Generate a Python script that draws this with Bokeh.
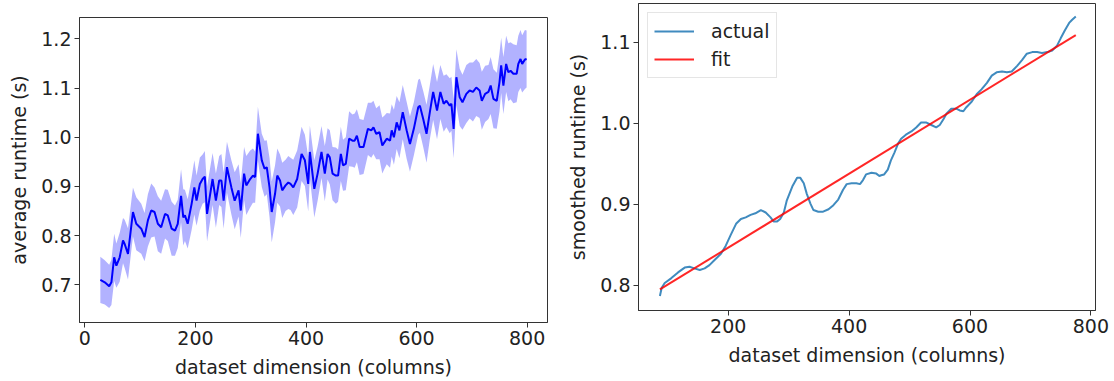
from bokeh.plotting import figure
from bokeh.layouts import row
from bokeh.models import (Range1d, FixedTicker, PrintfTickFormatter, ColumnDataSource,
                          Legend, LegendItem)
from bokeh.embed import file_html
from bokeh.resources import INLINE

# ---------------- data ----------------
# left panel: average runtime per dataset dimension, with spread band
dims_left = [28, 36, 44, 48, 53, 57, 63, 69, 72, 78, 87, 93, 102, 108, 114, 120, 126, 132, 138, 145,
             150, 157, 163, 168, 174, 178, 181, 186, 193, 198, 202, 208, 213, 217, 221, 231, 237, 243,
             247, 251, 257, 265, 271, 278, 282, 288, 292, 299, 304, 308, 313, 320, 325, 329, 334, 338,
             344, 348, 353, 357, 363, 368, 372, 377, 384, 392, 398, 404, 407, 415, 421, 428, 434, 439,
             443, 448, 454, 458, 463, 467, 472, 478, 484, 488, 492, 497, 504, 512, 518, 522, 527, 533,
             538, 542, 546, 552, 555, 559, 564, 569, 575, 582, 588, 595, 603, 606, 612, 618, 624, 630,
             637, 643, 649, 654, 660, 663, 667, 672, 678, 683, 690, 696, 702, 708, 714, 718, 724, 730,
             734, 739, 745, 750, 753, 757, 762, 766, 770, 775, 781, 784, 788, 791, 796, 799]
mean_left = [0.710, 0.705, 0.697, 0.705, 0.756, 0.739, 0.756, 0.790, 0.783, 0.763, 0.848, 0.824, 0.814,
             0.797, 0.831, 0.851, 0.848, 0.824, 0.817, 0.844, 0.841, 0.814, 0.810, 0.824, 0.881, 0.837,
             0.841, 0.824, 0.864, 0.898, 0.871, 0.905, 0.915, 0.920, 0.844, 0.915, 0.871, 0.912, 0.912,
             0.871, 0.939, 0.898, 0.871, 0.892, 0.851, 0.926, 0.902, 0.915, 0.922, 0.919, 1.007, 0.953,
             0.936, 0.939, 0.898, 0.848, 0.885, 0.922, 0.912, 0.892, 0.902, 0.908, 0.905, 0.898, 0.915,
             0.966, 0.953, 0.905, 0.970, 0.895, 0.926, 0.970, 0.926, 0.966, 0.959, 0.926, 0.922, 0.922,
             0.966, 0.943, 0.946, 0.997, 0.993, 0.993, 1.003, 0.980, 0.980, 1.017, 1.014, 1.020, 1.007,
             1.010, 0.983, 0.990, 0.997, 0.993, 1.014, 1.000, 1.030, 1.014, 1.051, 1.014, 0.986, 1.017,
             1.061, 1.064, 1.037, 1.007, 1.051, 1.092, 1.054, 1.092, 1.068, 1.074, 1.064, 1.068, 1.017,
             1.122, 1.081, 1.071, 1.088, 1.095, 1.092, 1.101, 1.095, 1.074, 1.088, 1.092, 1.105, 1.078,
             1.074, 1.112, 1.146, 1.105, 1.149, 1.132, 1.135, 1.129, 1.129, 1.149, 1.159, 1.149, 1.158,
             1.159]
std_left = [0.047, 0.045, 0.044, 0.046, 0.048, 0.045, 0.050, 0.046, 0.049, 0.052, 0.050, 0.054, 0.051,
            0.049, 0.053, 0.055, 0.050, 0.056, 0.054, 0.050, 0.052, 0.055, 0.051, 0.049, 0.054, 0.057,
            0.052, 0.050, 0.053, 0.055, 0.051, 0.054, 0.050, 0.052, 0.056, 0.053, 0.055, 0.050, 0.054,
            0.057, 0.052, 0.055, 0.058, 0.053, 0.056, 0.054, 0.060, 0.058, 0.055, 0.052, 0.055, 0.054,
            0.057, 0.055, 0.060, 0.062, 0.058, 0.055, 0.053, 0.056, 0.052, 0.054, 0.053, 0.056, 0.058,
            0.055, 0.052, 0.056, 0.054, 0.058, 0.055, 0.053, 0.056, 0.052, 0.055, 0.054, 0.057, 0.053,
            0.055, 0.052, 0.054, 0.056, 0.053, 0.055, 0.054, 0.057, 0.055, 0.053, 0.056, 0.054, 0.052,
            0.055, 0.057, 0.054, 0.052, 0.055, 0.053, 0.056, 0.054, 0.057, 0.055, 0.058, 0.056, 0.054,
            0.056, 0.055, 0.057, 0.059, 0.055, 0.057, 0.058, 0.055, 0.057, 0.054, 0.056, 0.055, 0.060,
            0.057, 0.058, 0.056, 0.059, 0.057, 0.060, 0.058, 0.056, 0.059, 0.057, 0.055, 0.058, 0.060,
            0.057, 0.059, 0.056, 0.058, 0.057, 0.059, 0.058, 0.060, 0.058, 0.057, 0.059, 0.058, 0.060,
            0.058]

# right panel: smoothed runtime and its linear fit
dims_right = [87, 90, 95, 106, 117, 128, 136, 144, 153, 161, 169, 177, 188, 196, 204, 213, 221, 229,
              237, 245, 254, 262, 270, 275, 281, 286, 292, 297, 306, 314, 319, 325, 330, 336, 341, 349,
              357, 366, 374, 382, 390, 396, 404, 412, 418, 423, 428, 437, 445, 450, 453, 458, 464, 469,
              475, 481, 486, 494, 503, 511, 519, 528, 536, 544, 550, 556, 561, 569, 578, 583, 589, 594,
              603, 611, 619, 628, 636, 644, 653, 661, 669, 678, 686, 694, 703, 711, 719, 728, 736, 744,
              750, 757, 764, 769, 775]
smoothed = [0.787, 0.797, 0.803, 0.809, 0.816, 0.822, 0.823, 0.821, 0.819, 0.821, 0.825, 0.831, 0.839,
            0.849, 0.862, 0.876, 0.882, 0.884, 0.887, 0.889, 0.893, 0.890, 0.884, 0.879, 0.879, 0.882,
            0.890, 0.905, 0.922, 0.933, 0.933, 0.926, 0.913, 0.901, 0.893, 0.891, 0.891, 0.894, 0.899,
            0.906, 0.918, 0.925, 0.926, 0.926, 0.925, 0.930, 0.937, 0.939, 0.938, 0.935, 0.936, 0.937,
            0.943, 0.954, 0.964, 0.975, 0.981, 0.986, 0.990, 0.995, 1.001, 1.001, 0.998, 0.995, 0.998,
            1.005, 1.012, 1.018, 1.018, 1.016, 1.015, 1.020, 1.027, 1.036, 1.042, 1.050, 1.059, 1.063,
            1.064, 1.063, 1.064, 1.071, 1.078, 1.086, 1.088, 1.088, 1.087, 1.088, 1.090, 1.096, 1.105,
            1.115, 1.124, 1.128, 1.132]
fit_x = [87, 775]
fit_y = [0.795, 1.109]

left_xticks = [0, 200, 400, 600, 800]
left_yticks = [0.7, 0.8, 0.9, 1.0, 1.1, 1.2]
right_xticks = [200, 400, 600, 800]
right_yticks = [0.8, 0.9, 1.0, 1.1]

# ---------------- styling helpers ----------------
FONT = "DejaVu Sans"
FS = "19px"
DARK = "#222222"
SPINE = "#333333"


def style(p, xticks, yticks):
    p.background_fill_color = "white"
    p.border_fill_color = "white"
    p.outline_line_color = SPINE
    p.outline_line_width = 1
    p.xgrid.visible = False
    p.ygrid.visible = False
    p.xaxis.ticker = FixedTicker(ticks=xticks)
    p.yaxis.ticker = FixedTicker(ticks=yticks)
    p.xaxis.formatter = PrintfTickFormatter(format="%d")
    p.yaxis.formatter = PrintfTickFormatter(format="%.1f")
    for ax in p.axis:
        ax.axis_line_color = SPINE
        ax.major_tick_line_color = SPINE
        ax.major_tick_out = 5
        ax.major_tick_in = 0
        ax.minor_tick_out = 0
        ax.minor_tick_in = 0
        ax.major_label_text_font = FONT
        ax.major_label_text_font_size = FS
        ax.major_label_text_color = DARK
        ax.major_label_standoff = 3
        ax.axis_label_text_font = FONT
        ax.axis_label_text_font_size = FS
        ax.axis_label_text_font_style = "normal"
        ax.axis_label_text_color = DARK
        ax.axis_label_standoff = 8


# ---------------- left panel ----------------
src_left = ColumnDataSource(data=dict(
    x=dims_left,
    mean=mean_left,
    lo=[m - s for m, s in zip(mean_left, std_left)],
    hi=[m + s for m, s in zip(mean_left, std_left)],
))

p1 = figure(width=560, height=381, title=None, frame_align=False,
            x_range=Range1d(-9.7, 836.8), y_range=Range1d(0.6234, 1.2433),
            output_backend="svg", toolbar_location=None,
            min_border_left=79, min_border_right=13, min_border_top=17, min_border_bottom=59)
p1.varea(x="x", y1="lo", y2="hi", source=src_left, fill_color="blue", fill_alpha=0.3)
p1.line(x="x", y="mean", source=src_left, line_color="blue", line_width=2)
p1.xaxis.axis_label = "dataset dimension (columns)"
p1.yaxis.axis_label = "average runtime (s)"
style(p1, left_xticks, left_yticks)

# ---------------- right panel ----------------
src_right = ColumnDataSource(data=dict(x=dims_right, y=smoothed))
src_fit = ColumnDataSource(data=dict(x=fit_x, y=fit_y))

p2 = figure(width=554, height=381, title=None, frame_align=False,
            x_range=Range1d(51.6, 807.6), y_range=Range1d(0.769, 1.148),
            output_backend="svg", toolbar_location=None,
            min_border_left=78, min_border_right=19, min_border_top=3, min_border_bottom=71)
r_act = p2.line(x="x", y="y", source=src_right, line_color="#1f77b4", line_width=2, line_alpha=0.85)
r_fit = p2.line(x="x", y="y", source=src_fit, line_color="red", line_width=2, line_alpha=0.85)
p2.xaxis.axis_label = "dataset dimension (columns)"
p2.yaxis.axis_label = "smoothed runtime (s)"
style(p2, right_xticks, right_yticks)

legend = Legend(items=[LegendItem(label="actual", renderers=[r_act]),
                       LegendItem(label="fit", renderers=[r_fit])],
                location="top_left")
legend.label_text_font = FONT
legend.label_text_font_size = FS
legend.label_text_color = DARK
legend.glyph_width = 40
legend.glyph_height = 24
legend.label_height = 24
legend.label_standoff = 17
legend.padding = 6
legend.spacing = 4
legend.margin = 9
legend.border_line_color = "#cccccc"
legend.border_line_width = 1
legend.background_fill_alpha = 0.8
p2.add_layout(legend)

layout = row(p1, p2)
open("out.html", "w").write(file_html(layout, INLINE))
